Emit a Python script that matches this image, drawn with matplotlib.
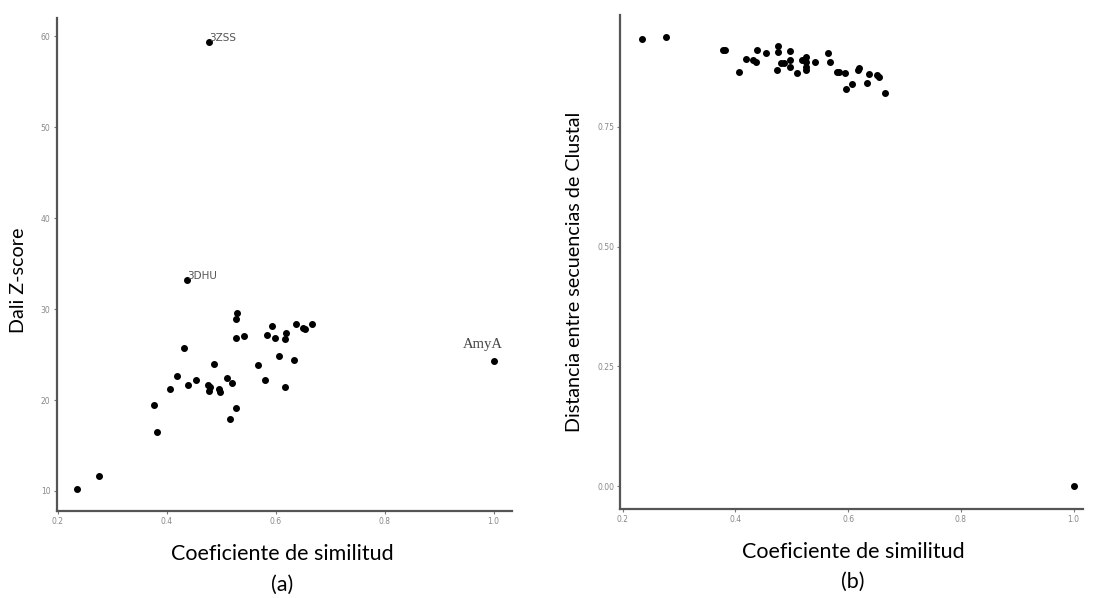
"""Coeficiente de similitud vs Dali Z-score (a) y vs distancia de Clustal (b)."""

import matplotlib

matplotlib.use("Agg")
import matplotlib.pyplot as plt

# (a) Dali Z-score
sim_a = [0.236, 0.276, 0.377, 0.383, 0.406, 0.419, 0.431, 0.439, 0.454, 0.476,
         0.479, 0.477, 0.487, 0.496, 0.497, 0.510, 0.519, 0.517, 0.528, 0.529,
         0.528, 0.527, 0.542, 0.567, 0.581, 0.584, 0.594, 0.598, 0.606, 0.617,
         0.617, 0.619, 0.634, 0.637, 0.651, 0.654, 0.666, 1.000, 0.437, 0.477]
zscore = [10.2, 11.6, 19.4, 16.5, 21.2, 22.6, 25.7, 21.6, 22.2, 21.6,
          21.4, 21.0, 24.0, 21.2, 20.9, 22.4, 21.9, 17.9, 19.1, 29.6,
          28.9, 26.8, 27.0, 23.8, 22.2, 27.1, 28.1, 26.8, 24.8, 21.4,
          26.7, 27.4, 24.4, 28.4, 27.9, 27.8, 28.4, 24.3, 33.2, 59.4]
labels_a = {"3ZSS": 39, "3DHU": 38, "AmyA": 37}

# (b) distancia entre secuencias (Clustal)
sim_b = [0.235, 0.276, 0.378, 0.382, 0.406, 0.419, 0.431, 0.436, 0.439, 0.454,
         0.475, 0.475, 0.474, 0.481, 0.486, 0.496, 0.496, 0.496, 0.509, 0.518,
         0.526, 0.526, 0.526, 0.526, 0.541, 0.565, 0.568, 0.580, 0.584, 0.594,
         0.597, 0.607, 0.617, 0.620, 0.634, 0.637, 0.651, 0.654, 0.666, 1.000]
dist = [0.932, 0.936, 0.910, 0.910, 0.865, 0.892, 0.890, 0.885, 0.910, 0.904,
        0.919, 0.906, 0.868, 0.883, 0.883, 0.907, 0.890, 0.875, 0.862, 0.889,
        0.895, 0.884, 0.875, 0.868, 0.885, 0.903, 0.885, 0.865, 0.865, 0.862,
        0.828, 0.838, 0.868, 0.873, 0.841, 0.860, 0.858, 0.854, 0.820, 0.000]

x_ticks = [0.2, 0.4, 0.6, 0.8, 1.0]
ticks_a = [10, 20, 30, 40, 50, 60]
ticks_b = [0.00, 0.25, 0.50, 0.75]

# Lato es lo más parecido a Calibri que hay instalado
LABEL_FONT = ["Lato", "DejaVu Sans"]
XLABEL_SIZE = 15.5
YLABEL_SIZE = 14.2


def style_axis(ax):
    # estilo tipo ggplot theme_classic: solo ejes izquierdo e inferior
    for side in ("top", "right"):
        ax.spines[side].set_visible(False)
    for side in ("left", "bottom"):
        ax.spines[side].set_color("#555555")
        ax.spines[side].set_linewidth(1.6)
    ax.tick_params(length=2.5, width=0.8, color="#777777",
                   labelsize=5.5, labelcolor="#888888", pad=2)


fig = plt.figure(figsize=(11.12, 5.98), dpi=100)

ax_a = fig.add_axes([0.051, 0.1455, 0.409, 0.8245])
ax_a.scatter(sim_a, zscore, s=16, color="black", zorder=3)
ax_a.set_xlim(0.198, 1.033)
ax_a.set_ylim(7.8, 62)
ax_a.set_xticks(x_ticks)
ax_a.set_yticks(ticks_a)
style_axis(ax_a)

for name in ("3ZSS", "3DHU"):
    i = labels_a[name]
    ax_a.annotate(name, (sim_a[i], zscore[i]), xytext=(0.5, 2.5),
                  textcoords="offset points", fontsize=7.5, color="#555555",
                  ha="left", va="center")
i = labels_a["AmyA"]
ax_a.annotate("AmyA", (sim_a[i], zscore[i]), xytext=(-8, 7),
              textcoords="offset points", fontsize=10.5, color="#444444",
              family=["Liberation Serif", "DejaVu Serif"],
              ha="center", va="bottom")

ax_b = fig.add_axes([0.558, 0.149, 0.416, 0.826])
ax_b.scatter(sim_b, dist, s=16, color="black", zorder=3)
ax_b.set_xlim(0.196, 1.017)
ax_b.set_ylim(-0.047, 0.983)
ax_b.set_xticks(x_ticks)
ax_b.set_yticks(ticks_b)
ax_b.set_yticklabels([f"{t:.2f}" for t in ticks_b])
style_axis(ax_b)

# títulos de ejes como en el documento original
fig.text(0.254, 1 - 554 / 598, "Coeficiente de similitud", ha="center",
         va="center", fontsize=XLABEL_SIZE, family=LABEL_FONT)
fig.text(0.254, 1 - 585 / 598, "(a)", ha="center", va="center",
         fontsize=XLABEL_SIZE, family=LABEL_FONT)
fig.text(0.767, 1 - 552 / 598, "Coeficiente de similitud", ha="center",
         va="center", fontsize=XLABEL_SIZE, family=LABEL_FONT)
fig.text(0.767, 1 - 582 / 598, "(b)", ha="center", va="center",
         fontsize=XLABEL_SIZE, family=LABEL_FONT)
fig.text(0.017, 1 - 280 / 598, "Dali Z-score", rotation=90, ha="center",
         va="center", fontsize=YLABEL_SIZE, family=LABEL_FONT)
fig.text(0.517, 1 - 272 / 598, "Distancia entre secuencias de Clustal",
         rotation=90, ha="center", va="center", fontsize=YLABEL_SIZE,
         family=LABEL_FONT)

fig.savefig("out.png", dpi=100)
